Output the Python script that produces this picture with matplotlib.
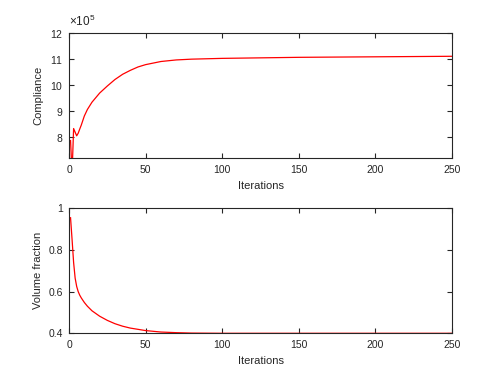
import matplotlib
matplotlib.use('Agg')
import matplotlib.pyplot as plt
from matplotlib.ticker import ScalarFormatter

# --- data ---
iters_c = [1, 2, 3, 4, 5, 6, 7, 8, 10, 12, 15, 20, 25, 30, 35, 40, 45, 50,
           60, 70, 80, 100, 125, 150, 200, 250]
compliance = [7.86e5, 6.6e5, 8.32e5, 8.18e5, 8.04e5, 8.14e5, 8.30e5, 8.45e5,
              8.80e5, 9.05e5, 9.33e5, 9.68e5, 9.95e5, 10.20e5, 10.40e5,
              10.55e5, 10.68e5, 10.77e5, 10.89e5, 10.95e5, 10.98e5, 11.01e5,
              11.03e5, 11.05e5, 11.07e5, 11.09e5]

iters_v = [1, 2, 3, 4, 5, 6, 7, 8, 10, 12, 15, 20, 25, 30, 35, 40, 50, 60,
           70, 80, 100, 150, 200, 250]
volume = [0.955, 0.85, 0.74, 0.665, 0.625, 0.600, 0.583, 0.570, 0.548, 0.530,
          0.508, 0.482, 0.462, 0.446, 0.434, 0.425, 0.413, 0.406, 0.403,
          0.401, 0.400, 0.400, 0.400, 0.400]

xticks = [0, 50, 100, 150, 200, 250]

plt.rcParams['font.family'] = ['Liberation Sans', 'DejaVu Sans']
plt.rcParams['mathtext.default'] = 'regular'
plt.rcParams['font.size'] = 8

dark = '#262626'

fig = plt.figure(figsize=(4.94, 3.83), dpi=100)
ax1 = fig.add_axes([0.1397, 0.5875, 0.7753, 0.3275])
ax2 = fig.add_axes([0.1397, 0.1298, 0.7753, 0.3262])


def style(ax):
    ax.set_xlim(0, 250)
    ax.set_xticks(xticks)
    ax.tick_params(direction='in', length=3.5, width=0.8, colors=dark,
                   top=True, right=True, labelsize=7.5, pad=5)
    ax.tick_params(axis='y', pad=4)
    for s in ax.spines.values():
        s.set_color(dark)
        s.set_linewidth(0.8)
    ax.set_xlabel('Iterations', color=dark, labelpad=4.5)


ax1.plot(iters_c, compliance, color='red', lw=0.9)
style(ax1)
ax1.set_ylim(7.19e5, 12e5)
ax1.set_yticks([8e5, 9e5, 10e5, 11e5, 12e5])
fmt = ScalarFormatter(useMathText=True)
fmt.set_powerlimits((5, 5))
ax1.yaxis.set_major_formatter(fmt)
ax1.yaxis.get_offset_text().set_visible(False)
ax1.text(0.0, 1.03, r'$\times10^{5}$', transform=ax1.transAxes,
         color=dark, fontsize=8.5, ha='left', va='bottom')
ax1.set_ylabel('Compliance', color=dark, labelpad=5)

ax2.plot(iters_v, volume, color='red', lw=0.9)
style(ax2)
ax2.set_ylim(0.4, 1.0)
ax2.set_yticks([0.4, 0.6, 0.8, 1.0])
ax2.set_yticklabels(['0.4', '0.6', '0.8', '1'])
ax2.set_ylabel('Volume fraction', color=dark, labelpad=4)

fig.savefig('out.png', dpi=100)
